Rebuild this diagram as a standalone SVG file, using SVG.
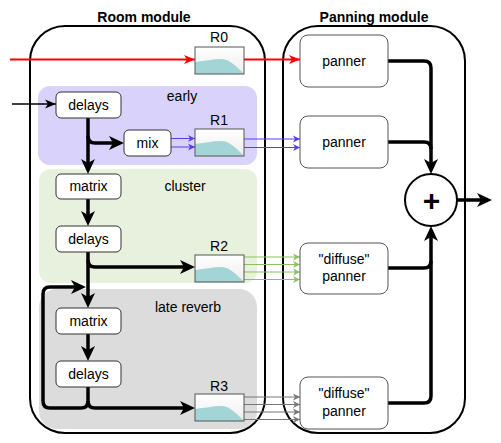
<svg xmlns="http://www.w3.org/2000/svg" width="501" height="443" viewBox="0 0 501 443">
<style>
text { font-family: "Liberation Sans", Arial, sans-serif; font-size: 14px; fill: #000; text-anchor: middle; }
.title { font-weight: bold; }
.module { fill: #fff; stroke: #000; stroke-width: 2; }
.box { fill: #fff; stroke: #333; stroke-width: 1; }
.pbox { fill: #fff; stroke: #555; stroke-width: 1; }
.thick { fill: none; stroke: #000; stroke-width: 3.5; }
.red { fill: none; stroke: #f00; stroke-width: 2; }
.thin { fill: none; stroke: #000; stroke-width: 1.5; }
.purple { fill: none; stroke: #5a3cf0; stroke-width: 1; }
.green { fill: none; stroke: #8cc063; stroke-width: 1; }
.gray { fill: none; stroke: #777; stroke-width: 1; }
</style>
<defs>
<marker id="aBig" markerUnits="userSpaceOnUse" markerWidth="16" markerHeight="14" refX="9" refY="7" orient="auto"><path d="M0,0 L15,7 L0,14 L4,7 Z" fill="#000"/></marker>
<marker id="aRed" markerUnits="userSpaceOnUse" markerWidth="12" markerHeight="10" refX="11" refY="5" orient="auto"><path d="M0,0.5 L11,5 L0,9.5 L3,5 Z" fill="#f00"/></marker>
<marker id="aBlk" markerUnits="userSpaceOnUse" markerWidth="12" markerHeight="10" refX="11" refY="5" orient="auto"><path d="M0,0.5 L11,5 L0,9.5 L3,5 Z" fill="#000"/></marker>
<marker id="aPur" markerUnits="userSpaceOnUse" markerWidth="8" markerHeight="8" refX="7" refY="4" orient="auto"><path d="M0,0.5 L7,4 L0,7.5 L2,4 Z" fill="#5a3cf0"/></marker>
<marker id="aGrn" markerUnits="userSpaceOnUse" markerWidth="8" markerHeight="8" refX="7" refY="4" orient="auto"><path d="M0,0.5 L7,4 L0,7.5 L2,4 Z" fill="#8cc063"/></marker>
<marker id="aGry" markerUnits="userSpaceOnUse" markerWidth="8" markerHeight="8" refX="7" refY="4" orient="auto"><path d="M0,0.5 L7,4 L0,7.5 L2,4 Z" fill="#777"/></marker>
<linearGradient id="rg" x1="0" y1="0" x2="0" y2="1"><stop offset="0" stop-color="#ffffff"/><stop offset="1" stop-color="#eeeeee"/></linearGradient>
<g id="rbox">
<rect x="0" y="0" width="49" height="27" fill="url(#rg)"/>
<path d="M0,15 C10,14 18,12 26,12 C35,12 42,20 49,27 L0,27 Z" fill="#a3d5d6"/>
<rect x="0" y="0" width="49" height="27" fill="none" stroke="#555" stroke-width="1"/>
</g>
</defs>
<rect width="501" height="443" fill="#fff"/>

<g id="room-module">
<rect class="module" x="30" y="26" width="235" height="407" rx="35"/>
<text class="title" x="144" y="22">Room module</text>
</g>
<g id="panning-module">
<rect class="module" x="283" y="26" width="182" height="407" rx="35"/>
<text class="title" x="374" y="22">Panning module</text>
</g>

<g id="early">
<rect x="38" y="86" width="219" height="79" rx="12" fill="#d9d3fb"/>
<text x="182" y="101">early</text>
</g>
<g id="cluster">
<rect x="39" y="169" width="218" height="114" rx="12" fill="#e8f0de"/>
<text x="185" y="191">cluster</text>
</g>
<g id="late-reverb">
<rect x="39" y="289" width="218" height="140" rx="18" fill="#dcdcdc"/>
<text x="188" y="312">late reverb</text>
</g>

<g id="connectors">
<path class="red" d="M10,59.5 H195" marker-end="url(#aRed)"/>
<path class="red" d="M244,59.5 H300" marker-end="url(#aRed)"/>
<path class="thin" d="M12,104 H56" marker-end="url(#aBlk)"/>
<path class="thick" d="M88,118 V168" marker-end="url(#aBig)"/>
<path class="thick" d="M88,136 Q88,143 95,143 H118" marker-end="url(#aBig)"/>
<path class="purple" d="M171,138.5 H195" marker-end="url(#aPur)"/>
<path class="purple" d="M171,147 H195" marker-end="url(#aPur)"/>
<path class="purple" d="M244,139 H300" marker-end="url(#aPur)"/>
<path class="purple" d="M244,147.5 H300" marker-end="url(#aPur)"/>
<path class="thick" d="M88,199 V220" marker-end="url(#aBig)"/>
<path class="thick" d="M88,252 V302" marker-end="url(#aBig)"/>
<path class="thick" d="M88,260 Q88,267 95,267 H189" marker-end="url(#aBig)"/>
<path class="green" d="M244,257 H300" marker-end="url(#aGrn)"/>
<path class="green" d="M244,264.5 H300" marker-end="url(#aGrn)"/>
<path class="green" d="M244,272 H300" marker-end="url(#aGrn)"/>
<path class="green" d="M244,279.5 H300" marker-end="url(#aGrn)"/>
<path class="thick" d="M88,334 V355" marker-end="url(#aBig)"/>
<path class="thick" d="M88,387 V401 Q88,408 81,408 H50 Q43,408 43,401 V294 Q43,287 50,287 H80" marker-end="url(#aBig)"/>
<path class="thick" d="M88,401 Q88,408 95,408 H189" marker-end="url(#aBig)"/>
<path class="gray" d="M244,397 H300" marker-end="url(#aGry)"/>
<path class="gray" d="M244,404.5 H300" marker-end="url(#aGry)"/>
<path class="gray" d="M244,412 H300" marker-end="url(#aGry)"/>
<path class="gray" d="M244,419.5 H300" marker-end="url(#aGry)"/>
<path class="thick" d="M388,61 H424 Q431,61 431,68 V168" marker-end="url(#aBig)"/>
<path class="thick" d="M388,142 H424 Q431,142 431,149"/>
<path class="thick" d="M388,268 H424 Q431,268 431,261"/>
<path class="thick" d="M388,403 H424 Q431,403 431,396 V232" marker-end="url(#aBig)"/>
<path class="thick" d="M457,200 H486" marker-end="url(#aBig)"/>
</g>

<g id="R0"><use href="#rbox" x="195" y="47"/><text x="219" y="42">R0</text></g>
<g id="R1"><use href="#rbox" x="195" y="129"/><text x="219" y="125">R1</text></g>
<g id="R2"><use href="#rbox" x="195" y="255"/><text x="219" y="251">R2</text></g>
<g id="R3"><use href="#rbox" x="195" y="394"/><text x="219" y="391">R3</text></g>

<g id="early-delays"><rect class="box" x="56" y="92" width="65" height="26" rx="5"/><text x="88.5" y="110">delays</text></g>
<g id="mix"><rect class="box" x="124" y="130" width="47" height="26" rx="5"/><text x="147.5" y="148">mix</text></g>
<g id="cluster-matrix"><rect class="box" x="56" y="174" width="65" height="25" rx="5"/><text x="88.5" y="191">matrix</text></g>
<g id="cluster-delays"><rect class="box" x="56" y="226" width="65" height="26" rx="5"/><text x="88.5" y="244">delays</text></g>
<g id="late-matrix"><rect class="box" x="56" y="308" width="65" height="26" rx="5"/><text x="88.5" y="326">matrix</text></g>
<g id="late-delays"><rect class="box" x="56" y="361" width="65" height="26" rx="5"/><text x="88.5" y="379">delays</text></g>

<g id="panner0"><rect class="pbox" x="300" y="35" width="88" height="52" rx="8"/><text x="344" y="66">panner</text></g>
<g id="panner1"><rect class="pbox" x="300" y="116" width="88" height="52" rx="8"/><text x="344" y="147">panner</text></g>
<g id="diffuse-panner2"><rect class="pbox" x="300" y="243" width="88" height="51" rx="8"/><text x="344" y="264">"diffuse"</text><text x="344" y="281">panner</text></g>
<g id="diffuse-panner3"><rect class="pbox" x="300" y="377" width="88" height="52" rx="8"/><text x="344" y="398">"diffuse"</text><text x="344" y="416">panner</text></g>

<g id="sum">
<circle cx="431" cy="200" r="26" fill="#fff" stroke="#000" stroke-width="2"/>
<text x="431.5" y="211" style="font-size:30px;font-weight:bold">+</text>
</g>
</svg>
